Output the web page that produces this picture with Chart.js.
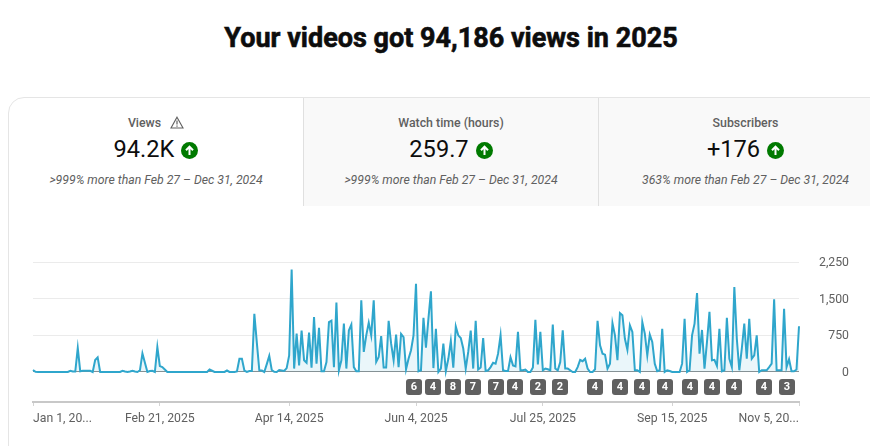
<!DOCTYPE html>
<html>
<head>
<meta charset="utf-8">
<script src="https://cdn.jsdelivr.net/npm/chart.js@4"></script>
<style>
  html, body { margin: 0; padding: 0; width: 870px; height: 446px; overflow: hidden; background: #fff; font-family: Roboto, sans-serif; }
  h1 { position: absolute; left: 0; top: 19px; width: 902px; margin: 0; text-align: center; font-size: 27px; line-height: 38px; font-weight: 700; color: #0d0d0d; -webkit-text-stroke: 0.6px #0d0d0d; }
  #panel { position: absolute; left: 8px; top: 97px; width: 900px; height: 360px; box-sizing: border-box; border: 1px solid #e5e5e5; border-radius: 16px 0 0 0; }
  .tab { position: absolute; top: 0; height: 108px; box-sizing: border-box; text-align: center; }
  #tab1 { left: 0; width: 294px; border-radius: 15px 0 0 0; }
  #tab2 { left: 294px; width: 295px; background: #f9f9f9; border-left: 1px solid #e0e0e0; }
  #tab3 { left: 589px; width: 311px; background: #f9f9f9; border-left: 1px solid #e0e0e0; }
  .name { position: absolute; left: 0; right: 0; top: 16px; font-size: 12.35px; line-height: 18px; font-weight: 500; color: #606060; }
  .value { position: absolute; left: 0; right: 0; top: 35px; font-size: 23.6px; line-height: 32px; color: #0d0d0d; }
  .note { position: absolute; left: 0; right: 0; top: 73px; font-size: 12.25px; line-height: 18px; font-style: italic; color: #606060; }
  #tab3 .name, #tab3 .value, #tab3 .note { right: 17px; }
  .value svg { margin-left: 7px; vertical-align: -1.5px; }
  .name svg { margin-left: 9px; vertical-align: -2px; }
  #chartBox { position: absolute; left: 0; top: 210px; width: 870px; height: 236px; }
  canvas { display: block; }
</style>
</head>
<body>
<h1>Your videos got 94,186 views in 2025</h1>
<div id="panel">
  <div class="tab" id="tab1">
    <div class="name">Views<svg width="14" height="13" viewBox="0 0 14 13"><path d="M7 1.2 L13 12 H1 Z" fill="none" stroke="#606060" stroke-width="1.1"/><path d="M7 4.6 V8.4 M7 9.4 V10.8" stroke="#606060" stroke-width="1.2"/></svg></div>
    <div class="value">94.2K<svg width="17" height="17" viewBox="0 0 17 17"><circle cx="8.5" cy="8.5" r="8.5" fill="#007a00"/><path d="M8.5 13 V5 M5 8.2 L8.5 4.6 L12 8.2" fill="none" stroke="#fff" stroke-width="2"/></svg></div>
    <div class="note">&gt;999% more than Feb 27 – Dec 31, 2024</div>
  </div>
  <div class="tab" id="tab2">
    <div class="name">Watch time (hours)</div>
    <div class="value">259.7<svg width="17" height="17" viewBox="0 0 17 17"><circle cx="8.5" cy="8.5" r="8.5" fill="#007a00"/><path d="M8.5 13 V5 M5 8.2 L8.5 4.6 L12 8.2" fill="none" stroke="#fff" stroke-width="2"/></svg></div>
    <div class="note">&gt;999% more than Feb 27 – Dec 31, 2024</div>
  </div>
  <div class="tab" id="tab3">
    <div class="name">Subscribers</div>
    <div class="value">+176<svg width="17" height="17" viewBox="0 0 17 17"><circle cx="8.5" cy="8.5" r="8.5" fill="#007a00"/><path d="M8.5 13 V5 M5 8.2 L8.5 4.6 L12 8.2" fill="none" stroke="#fff" stroke-width="2"/></svg></div>
    <div class="note">363% more than Feb 27 – Dec 31, 2024</div>
  </div>
</div>
<div id="chartBox"><canvas id="chart" width="870" height="236"></canvas></div>
<script>
// Daily views, one entry per day from Jan 1, 2025 onward.
const dailyViews = [
  40,5,0,0,0,0,0,0,0,0,
  0,0,0,0,0,25,10,10,490,15,
  25,25,25,25,0,245,300,0,0,0,
  0,0,0,0,0,0,25,10,0,10,
  25,10,0,35,380,190,0,20,25,0,
  510,120,100,50,0,0,0,0,0,0,
  0,0,0,0,0,0,0,0,0,0,
  0,50,25,0,0,0,0,0,30,0,
  0,0,10,270,270,30,0,20,20,1190,
  600,35,30,0,160,330,40,5,0,40,
  30,20,80,340,2095,70,785,135,845,240,
  190,805,90,1125,170,905,15,15,205,1020,
  1050,100,1420,35,240,990,70,850,970,100,
  15,15,1465,410,750,1010,750,1465,205,305,
  735,90,90,1045,580,240,765,100,780,715,
  55,270,445,750,1805,15,35,1110,500,1090,
  1650,80,885,0,70,580,20,270,635,90,
  930,750,695,480,70,410,845,70,1045,50,
  90,695,20,35,100,190,170,375,750,35,
  20,20,300,135,115,820,35,35,50,0,
  0,90,1070,155,820,35,70,55,35,970,
  70,35,205,850,70,70,35,0,0,100,
  245,220,270,70,0,0,55,1045,545,375,
  355,70,170,1000,750,240,1205,1160,680,455,
  955,820,35,35,0,1020,785,340,765,615,
  170,15,35,885,0,35,20,0,0,0,
  0,170,1090,0,35,750,990,1615,375,860,
  70,615,1230,240,250,125,885,15,35,1110,
  270,100,1740,680,35,480,990,270,1090,270,
  340,750,0,35,35,35,100,170,1485,35,
  35,35,1295,100,260,15,15,50,935
];

// Axis ticks: day offsets on the date axis and their shortened captions.
const dateTickDays = [0, 51, 103, 154, 205, 257, 308];
const dateTickLabels = ["Jan 1, 20...", "Feb 21, 2025", "Apr 14, 2025", "Jun 4, 2025", "Jul 25, 2025", "Sep 15, 2025", "Nov 5, 20..."];
const viewTicks = [0, 750, 1500, 2250];

// Upload markers under the line: the day each falls on and how many videos it holds.
const uploadDays = [153, 161, 169, 177, 186, 194, 203, 212, 226, 236, 245, 254, 264, 273, 282, 294, 303];
const uploadCounts = [6, 4, 8, 7, 7, 4, 2, 2, 4, 4, 4, 4, 4, 4, 4, 4, 3];

const categories = dailyViews.map((_, i) => {
  const d = new Date(Date.UTC(2025, 0, 1 + i));
  return d.toLocaleDateString("en-US", { month: "short", day: "numeric", year: "numeric", timeZone: "UTC" });
});

// Pins the outer date captions to the plot edges and settles the value captions on their gridlines.
const edgeLabels = {
  id: "edgeLabels",
  beforeDraw(chart) {
    const items = chart.scales.x.getLabelItems();
    if (items.length) {
      items[0].options.textAlign = "left";
      items[items.length - 1].options.textAlign = "right";
    }
    chart.scales.y.getLabelItems().forEach(item => {
      const t = item.options.translation;
      item.options.translation = [t[0], t[1] + 1];
    });
  }
};

// Draws the rounded upload-count chips in the gutter beneath the baseline.
const uploadChips = {
  id: "uploadChips",
  afterDatasetsDraw(chart) {
    const { ctx, scales } = chart;
    const y = scales.y.getPixelForValue(0) + 7;
    ctx.save();
    ctx.font = "700 11px Roboto";
    ctx.textAlign = "center";
    ctx.textBaseline = "middle";
    uploadDays.forEach((day, i) => {
      const x = Math.round(scales.x.getPixelForValue(day));
      ctx.beginPath();
      ctx.roundRect(x - 8, y, 16, 16, 3);
      ctx.fillStyle = "#606060";
      ctx.fill();
      ctx.fillStyle = "#ffffff";
      ctx.fillText(String(uploadCounts[i]), x, y + 8.5);
    });
    ctx.restore();
  }
};

new Chart(document.getElementById("chart"), {
  type: "line",
  plugins: [edgeLabels, uploadChips],
  data: {
    labels: categories,
    datasets: [{
      data: dailyViews,
      borderColor: "#2fa6cc",
      borderWidth: 2,
      backgroundColor: "rgba(47,166,204,0.1)",
      fill: { value: 0 },
      pointRadius: 0,
      tension: 0,
      borderJoinStyle: "miter"
    }]
  },
  options: {
    responsive: false,
    animation: false,
    events: [],
    layout: { padding: { left: 33, right: 21, top: 52, bottom: 0 } },
    plugins: { legend: { display: false }, tooltip: { enabled: false } },
    scales: {
      x: {
        type: "category",
        offset: false,
        afterBuildTicks(scale) { scale.ticks = dateTickDays.map(v => ({ value: v })); },
        afterFit(scale) {
          scale.height = 44;
          scale.paddingLeft = 0;
          scale.paddingRight = 0;
        },
        grid: { drawOnChartArea: false, drawTicks: true, tickLength: 4, tickColor: "#d4d4d4", tickWidth: 1 },
        border: { color: "#c8c8c8", width: 2 },
        ticks: {
          autoSkip: false,
          maxRotation: 0,
          minRotation: 0,
          padding: 6,
          color: "#606060",
          font: { family: "Roboto", size: 12.25 },
          callback(value) { return dateTickLabels[dateTickDays.indexOf(value)]; }
        }
      },
      y: {
        position: "right",
        min: -614,
        max: 2250,
        afterBuildTicks(scale) { scale.ticks = viewTicks.map(v => ({ value: v })); },
        afterFit(scale) {
          scale.width = 50;
          scale.paddingTop = 0;
          scale.paddingBottom = 0;
        },
        grid: {
          drawTicks: false,
          color: ctx => ctx.tick && ctx.tick.value === 0 ? "#8f8f8f" : "#ebebeb"
        },
        border: { display: false },
        ticks: {
          padding: 20,
          crossAlign: "far",
          color: "#606060",
          font: { family: "Roboto", size: 12.25 },
          callback: v => v.toLocaleString("en-US")
        }
      }
    }
  }
});
</script>
</body>
</html>
